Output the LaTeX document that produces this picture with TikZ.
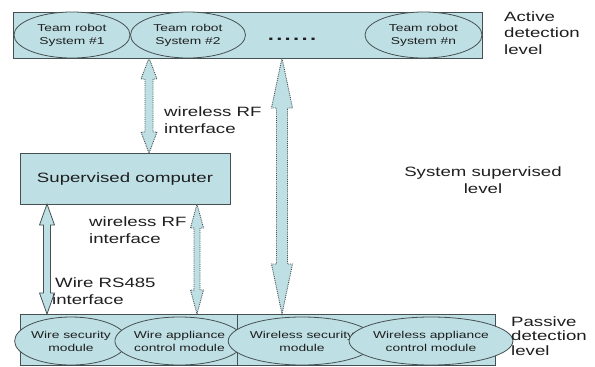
\documentclass[tikz,border=0pt]{standalone}
\usepackage{fontspec}
\setmainfont[FakeStretch=1.38]{Liberation Sans}
\usetikzlibrary{shapes.geometric}
\definecolor{fillc}{RGB}{190,224,228}
\definecolor{edgec}{RGB}{70,80,82}
\definecolor{txtc}{RGB}{30,30,30}
\newcommand{\dblarr}[7]{%
  \draw[#1] (#2,#3) -- (#2+#6,#3+#7) -- (#2+#5,#3+#7) -- (#2+#5,#4-#7) -- (#2+#6,#4-#7) -- (#2,#4)
    -- (#2-#6,#4-#7) -- (#2-#5,#4-#7) -- (#2-#5,#3+#7) -- (#2-#6,#3+#7) -- cycle;}
\tikzset{
  box/.style={draw=edgec, fill=fillc, line width=0.8pt, rectangle, inner sep=0pt},
  ell/.style={draw=edgec, fill=fillc, line width=0.8pt, ellipse, inner sep=0pt, align=center,
    text=txtc, font=\fontsize{10}{13}\selectfont},
  lbl/.style={text=txtc, font=\fontsize{13.5}{16.5}\selectfont, inner sep=0pt},
  dotarr/.style={draw=edgec, fill=fillc, line width=0.9pt, densely dotted},
  solarr/.style={draw=edgec, fill=fillc, line width=0.8pt}
}
\begin{document}
\begin{tikzpicture}[x=1pt,y=-1pt]
\useasboundingbox (0,0) rectangle (595,367);
% top level
\node[box, minimum width=469pt, minimum height=46pt] (top) at (247.5,35) {};
\node[ell, minimum width=116pt, minimum height=46pt] (r1) at (72,35) {Team robot\\System \#1};
\node[ell, minimum width=115pt, minimum height=46pt] (r2) at (188,35) {Team robot\\System \#2};
\node[ell, minimum width=117pt, minimum height=46pt] (rn) at (423.5,35) {Team robot\\System \#n};
\node[text=txtc, inner sep=0pt, font=\fontsize{16}{16}\selectfont\bfseries] (dots) at (292,39)
  {.\kern2.3pt.\kern2.3pt.\kern2.3pt.\kern2.3pt.\kern2.3pt.};
\node[lbl, align=left, anchor=west, font=\fontsize{13.5}{16.7}\selectfont] (act) at (504,33) {Active\\detection\\level};
% supervised computer
\node[box, minimum width=210pt, minimum height=51pt] (comp) at (125,178.5) {};
\node[lbl] (compt) at (125,179) {Supervised computer};
\node[lbl, align=center] (sys) at (483,180) {System supervised\\level};
% bottom level
\node[box, minimum width=217pt, minimum height=51pt] (botL) at (128.5,339.5) {};
\node[box, minimum width=258pt, minimum height=51pt] (botR) at (366,339.5) {};
\node[ell, minimum width=102pt, minimum height=48pt] (ws) at (71,341) {Wire security\\module};
\node[ell, minimum width=115pt, minimum height=48pt] (wa) at (179.5,341) {Wire appliance\\control module};
\node[ell, minimum width=130pt, minimum height=48pt] (wls) at (302,341) {Wireless security\\module};
\node[ell, minimum width=128pt, minimum height=48pt] (wla) at (431,341) {Wireless appliance\\control module};
\node[lbl, align=left, anchor=west, font=\fontsize{13.5}{14.5}\selectfont] (pas) at (511,336) {Passive\\detection\\level};
% arrows
\dblarr{dotarr}{149}{58}{153}{4}{8}{21}
\dblarr{dotarr}{282}{58}{314}{5.5}{10.5}{50}
\dblarr{dotarr}{197}{204}{314}{3}{6.5}{24}
\dblarr{solarr}{47}{204}{314}{3.5}{7.5}{21}
% arrow labels
\node[lbl, align=left, anchor=west] (rf1) at (164,120) {wireless RF\\interface};
\node[lbl, align=left, anchor=west] (rf2) at (89,230) {wireless RF\\interface};
\node[lbl, align=left, anchor=west] (rs) at (52,291) {\kern3pt Wire RS485\\interface};
\end{tikzpicture}
\end{document}
